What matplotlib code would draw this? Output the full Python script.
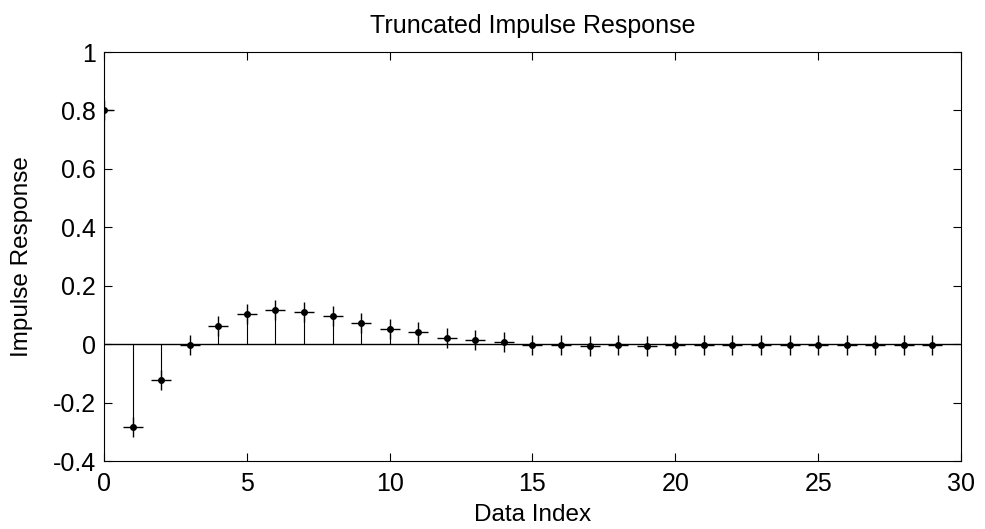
import numpy as np, matplotlib.pyplot as plt
from matplotlib import rcParams

rcParams['font.family'] = 'Liberation Sans'
rcParams['font.size'] = 17

# impulse response values
n = np.arange(0, 30)
h = np.array([0.80, -0.285, -0.122, -0.004, 0.062, 0.103, 0.116, 0.110, 0.098, 0.074,
              0.053, 0.043, 0.020, 0.015, 0.007, -0.003, -0.004, -0.005, -0.004, -0.005,
              -0.003, -0.003, -0.003, -0.003, -0.003, -0.003, -0.002, -0.002, -0.002, -0.002])

fig = plt.figure(figsize=(9.85, 5.29), dpi=100)
ax = fig.add_axes([0.1056, 0.1285, 0.8700, 0.7732])

ax.axhline(0, color='black', lw=1.0, zorder=1)
ax.vlines(n, 0, h, color='black', lw=0.8, zorder=2)
ax.plot(n, h, ls='none', marker='+', ms=14, mew=1.0, color='black', zorder=3)
ax.plot(n, h, ls='none', marker='o', ms=4, color='black', zorder=4)

ax.set_xlim(0, 30)
ax.set_ylim(-0.4, 1)
ax.set_xticks(np.arange(0, 31, 5))
ax.set_yticks([-0.4, -0.2, 0, 0.2, 0.4, 0.6, 0.8, 1])
ax.set_yticklabels(['-0.4', '-0.2', '0', '0.2', '0.4', '0.6', '0.8', '1'])
ax.tick_params(direction='in', top=True, right=True, length=6, width=0.8, labelsize=18)
ax.tick_params(axis='x', pad=8)
ax.tick_params(axis='y', pad=6)
for s in ax.spines.values():
    s.set_linewidth(0.8)

ax.set_title('Truncated Impulse Response', fontsize=18, pad=14)
ax.set_xlabel('Data Index', fontsize=17.5, labelpad=6)
ax.set_ylabel('Impulse Response', fontsize=17.5, labelpad=14)

plt.savefig('out.png', dpi=100)
